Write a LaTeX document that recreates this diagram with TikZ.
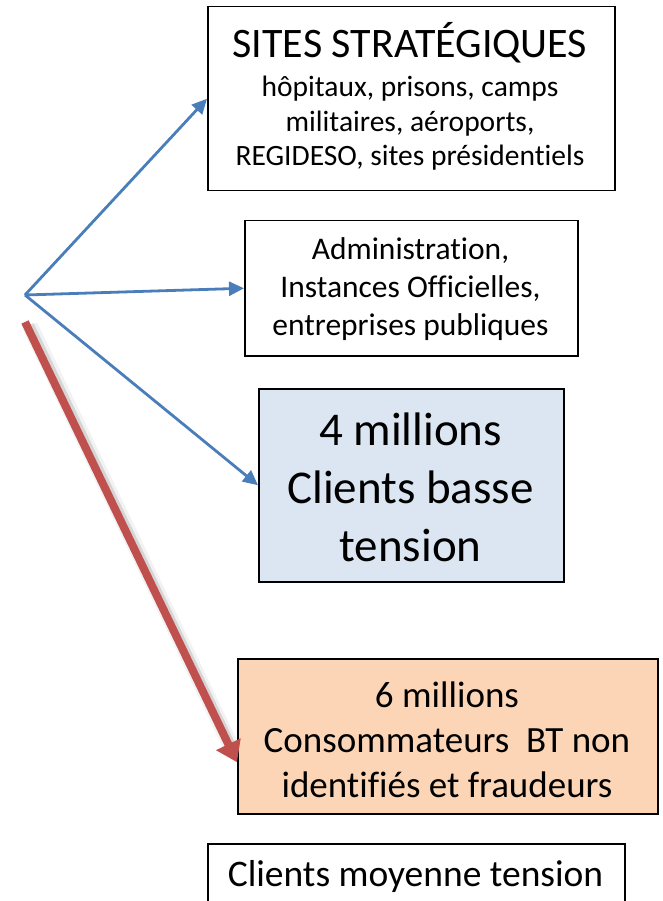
\documentclass[tikz,border=0pt]{standalone}
\usepackage{fontspec}
\setmainfont[Ligatures={NoCommon}]{Carlito}
\usetikzlibrary{arrows.meta,calc}
\definecolor{barrow}{HTML}{4A7EBB}
\definecolor{rarrow}{HTML}{C0504D}
\definecolor{lblue}{HTML}{DCE6F2}
\definecolor{peach}{HTML}{FBD5B5}
\tikzset{
  box/.style={draw=black,line width=1.5pt,rectangle,anchor=north west,align=center,inner sep=0pt},
  txt/.style={anchor=center,align=center,inner sep=0pt},
  barr/.style={draw=barrow,line width=2.8pt,-{Triangle[length=15pt,width=14pt]}},
  rarr/.style={draw=rarrow,line width=8pt,-{Triangle[length=20pt,width=26pt]}},
  rshadowA/.style={draw=black,line width=16pt,opacity=0.05},
  rshadowB/.style={draw=black,line width=10pt,opacity=0.12}
}
\begin{document}
\begin{tikzpicture}[x=1pt,y=-1pt]
\useasboundingbox (0,0) rectangle (662,901);
\begin{scope}
\clip (0,0) rectangle (662,901);
\node[box,minimum width=407pt,minimum height=184pt] (b1) at (207,6) {};
\node[txt,font=\fontsize{42}{46}\selectfont] (t1) at (410,43) {SITES STRATÉGIQUES};
\node[txt,font=\fontsize{29.5}{34.5}\selectfont] (t1b) at (410,123.5) {hôpitaux, prisons, camps\\ militaires, aéroports,\\ REGIDESO, sites présidentiels};
\node[box,minimum width=333pt,minimum height=135pt] (b2) at (244,220) {};
\node[txt,font=\fontsize{31.5}{38}\selectfont] (t2) at (410.5,289) {Administration,\\ Instances Officielles,\\ entreprises publiques};
\node[box,fill=lblue,minimum width=305pt,minimum height=193pt] (b3) at (258,388) {};
\node[txt,font=\fontsize{47}{58}\selectfont] (t3) at (410.5,487) {4 millions\\ Clients basse\\ tension};
\node[box,fill=peach,minimum width=420pt,minimum height=155pt] (b4) at (237,658) {};
\node[txt,font=\fontsize{37}{45}\selectfont] (t4) at (447,740) {6 millions\\ Consommateurs~ BT non\\ identifiés et fraudeurs};
\node[box,minimum width=417pt,minimum height=90pt] (b5) at (207,843) {};
\node[txt,font=\fontsize{37.5}{42}\selectfont] (t5) at (415.5,876) {Clients moyenne tension};
\end{scope}
\coordinate (o) at (25,295);
\coordinate (rs) at (25,322);
\coordinate (rt) at ([yshift=-26pt]b4.west);
\draw[barr] (o) -- (b1.west);
\draw[barr] (o) -- (b2.west);
\draw[barr] (o) -- (b3.west);
\draw[rshadowA] ($(rs)+(5,4)$) -- ($(rt)+(-4,-12)$);
\draw[rshadowB] ($(rs)+(4,3)$) -- ($(rt)+(-4,-12)$);
\draw[rarr] (rs) -- (rt);
\end{tikzpicture}
\end{document}
